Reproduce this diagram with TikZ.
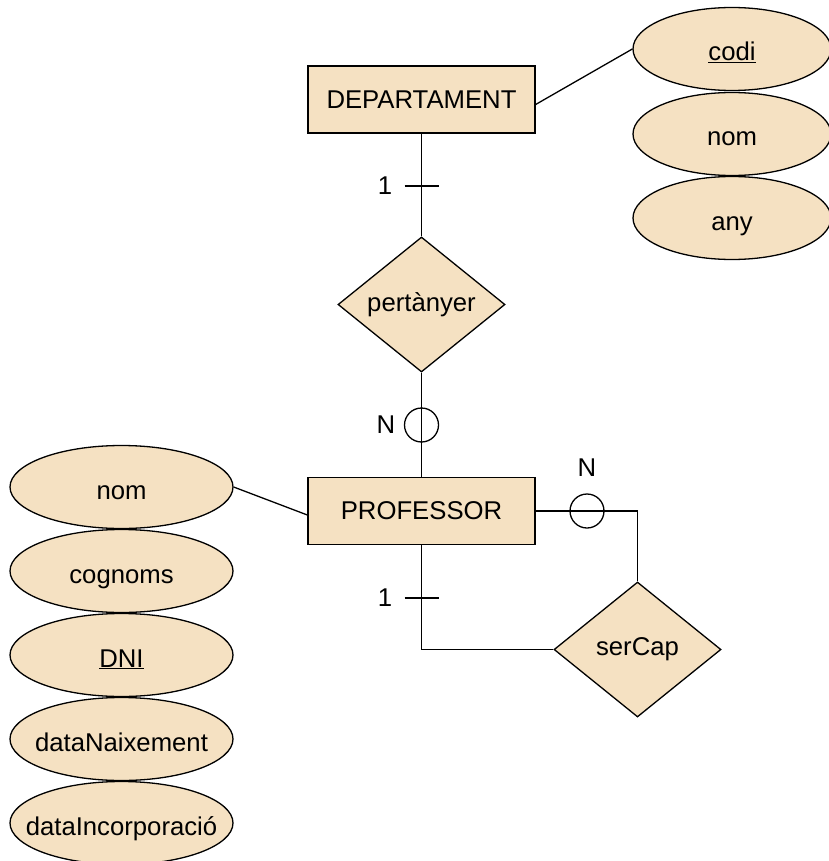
\documentclass[tikz,border=0pt]{standalone}
\usepackage{fontspec}
\setmainfont{Liberation Sans}
\usetikzlibrary{shapes.geometric}
\definecolor{erfill}{HTML}{F5E1C2}
% attribute text: takes no room in the ellipse, baseline set below its centre
\newcommand{\attrtext}[1]{\makebox[0pt]{\raisebox{-12pt}[0pt][0pt]{#1}}}
\begin{document}
\begin{tikzpicture}[x=1pt,y=-1pt,
  line width=1.3pt,
  every node/.style={font=\fontsize{25.7}{30}\selectfont},
  entity/.style={draw, fill=erfill, minimum width=227pt, minimum height=67pt, inner sep=0pt},
  attr/.style={draw, fill=erfill, ellipse, minimum width=223pt, minimum height=83pt, inner sep=0pt},
  rel/.style={draw, fill=erfill, diamond, minimum width=167pt, minimum height=135pt, inner sep=0pt},
  card/.style={draw, circle, minimum size=34pt, inner sep=0pt},
  lbl/.style={inner sep=0pt}]
\useasboundingbox (0,0) rectangle (828,861);

% entities
\node[entity] (dep) at (421.5,99.5) {DEPARTAMENT};
\node[entity] (prof) at (421.5,511) {PROFESSOR};

% relationships
\node[rel] (pert) at (421.5,304.5) {pertànyer};
\node[rel] (cap) at (637.5,649.5) {serCap};

% DEPARTAMENT attributes
\node[attr, minimum width=198pt] (codi) at (732,49) {\attrtext{\underline{codi}}};
\node[attr, minimum width=198pt] (dnom) at (732,134) {\attrtext{nom}};
\node[attr, minimum width=198pt] (dany) at (732,218) {\attrtext{any}};

% PROFESSOR attributes
\node[attr] (pnom) at (121.5,487) {\attrtext{nom}};
\node[attr] (pcog) at (121.5,571) {\attrtext{cognoms}};
\node[attr] (pdni) at (121.5,655) {\attrtext{\underline{DNI}}};
\node[attr] (pdat) at (121.5,739) {\attrtext{dataNaixement}};
\node[attr] (pinc) at (121.5,823) {\attrtext{dataIncorporació}};

% attribute links
\draw ([yshift=-5pt]dep.east) -- (codi.west);
\draw (pnom.east) -- ([yshift=-4pt]prof.west);

% DEPARTAMENT -- pertànyer -- PROFESSOR
\draw (dep.south) -- (pert.north);
\draw (pert.south) -- (prof.north);
\coordinate (t1) at (421.5,186);
\draw (t1) +(-17,0) -- +(17,0);
\node[lbl] at (385,186) {1};
\node[card] (c1) at (421.5,425) {};
\node[lbl] at (386,425) {N};

% PROFESSOR -- serCap loop
\coordinate (k1) at (637.5,511);
\coordinate (k2) at (421.5,649.5);
\draw (prof.east) -- (k1) -- (cap.north);
\draw (prof.south) -- (k2) -- (cap.west);
\node[card] (c2) at (587,511) {};
\node[lbl] at (587,468) {N};
\coordinate (t2) at (421.5,598);
\draw (t2) +(-17,0) -- +(17,0);
\node[lbl] at (385,598) {1};
\end{tikzpicture}
\end{document}
